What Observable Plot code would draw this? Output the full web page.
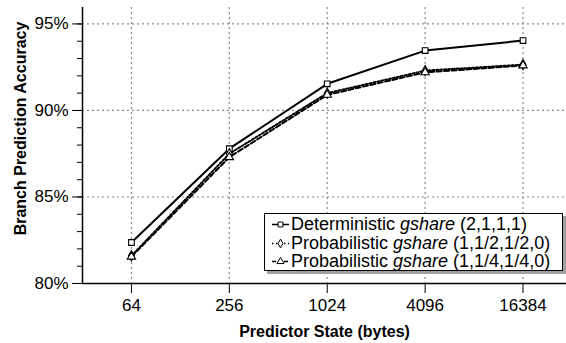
<!DOCTYPE html>
<html>
<head>
<meta charset="utf-8">
<script src="https://cdn.jsdelivr.net/npm/d3@7"></script>
<script src="https://cdn.jsdelivr.net/npm/@observablehq/plot@0.6"></script>
<style>
  body { margin: 0; background: white; }
  #wrap { position: relative; width: 566px; height: 343px; font-family: "Liberation Sans", Arial, Helvetica, sans-serif; }
  #legend { position: absolute; left: 264px; top: 213px; width: 299px; height: 58px; border: 1.5px solid black; background: white; box-shadow: 3px 3px 0 #a0a0a0; font-size: 18px; line-height: 18px; box-sizing: border-box; padding-top: 1px; }
  #legend .row { display: flex; align-items: center; height: 18.5px; white-space: nowrap; }
  #legend svg { display: block; margin-left: 6px; margin-right: 1px; }
</style>
</head>
<body>
<div id="wrap"></div>
<script>
const sizes = [64, 256, 1024, 4096, 16384];
const deterministic = [82.37, 87.79, 91.54, 93.46, 94.04];
const prob12 = [81.6, 87.5, 91.0, 92.3, 92.65];
const prob14 = [81.55, 87.3, 90.9, 92.2, 92.6];
const seriesNames = ["Deterministic", "Probabilistic", "Probabilistic"];
const seriesParams = ["(2,1,1,1)", "(1,1/2,1/2,0)", "(1,1/4,1/4,0)"];
const seriesSymbols = ["square", "diamond", "triangle"];
const seriesDash = [null, "2,2", "5,2.5"];
const yMajor = [80, 85, 90, 95];
const yMinor = d3.range(80, 96, 1);
const yGrid = [85, 90, 95];

const allSeries = [deterministic, prob12, prob14];
const rows = (k) => sizes.map((s, i) => ({size: s, value: allSeries[k][i], series: k}));

const lineMarks = allSeries.map((_, k) =>
  Plot.line(rows(k), {x: "size", y: "value", stroke: "black", strokeWidth: 2, strokeDasharray: seriesDash[k] || undefined})
);
const dotMarks = allSeries.map((_, k) =>
  Plot.dot(rows(k), {x: "size", y: "value", symbol: () => seriesSymbols[k], r: k === 0 ? 3.2 : 3.1, fill: "white", stroke: "black", strokeWidth: 1.1})
);

const chart = Plot.plot({
  width: 566, height: 343,
  marginLeft: 82, marginRight: 0, marginTop: 7, marginBottom: 60,
  x: {type: "log", base: 2, domain: [32, 30330]},
  y: {domain: [80, 95.95]},
  style: {fontFamily: '"Liberation Sans", Arial, Helvetica, sans-serif', fontSize: "17px", background: "white", color: "black"},
  marks: [
    Plot.gridX(sizes, {stroke: "#888", strokeOpacity: 1, strokeWidth: 1.2, strokeDasharray: "2,3"}),
    Plot.gridY(yGrid, {stroke: "#888", strokeOpacity: 1, strokeWidth: 1.2, strokeDasharray: "2,3"}),
    Plot.axisY(yMinor, {tickSize: 5, tickFormat: () => "", label: null, strokeWidth: 1}),
    Plot.axisY(yMajor, {tickSize: 10, tickPadding: 4, tickFormat: d => d + "%", label: null, fontSize: 17, strokeWidth: 1}),
    Plot.axisX(sizes, {tickSize: 10, tickPadding: 5, tickFormat: d => String(d), label: null, fontSize: 17, strokeWidth: 1}),
    Plot.ruleX([32], {y1: 80, y2: 95.95, stroke: "black", strokeWidth: 1.5}),
    Plot.ruleY([80], {stroke: "black", strokeWidth: 1.5}),
    ...lineMarks,
    ...dotMarks,
    Plot.text(["Branch Prediction Accuracy"], {frameAnchor: "left", textAnchor: "middle", lineAnchor: "middle", rotate: -90, dx: -62, dy: -17, fontWeight: "bold", fontSize: 16, fill: "black"}),
    Plot.text(["Predictor State (bytes)"], {frameAnchor: "bottom", textAnchor: "middle", dy: 48, lineAnchor: "middle", fontWeight: "bold", fontSize: 16, fill: "black"})
  ]
});

const wrap = document.getElementById("wrap");
wrap.appendChild(chart);

const legend = document.createElement("div");
legend.id = "legend";
const symPath = (k) => d3.symbol(k === 0 ? d3.symbolSquare : k === 1 ? d3.symbolDiamond : d3.symbolTriangle, k === 0 ? 24 : 22)();
seriesNames.forEach((name, k) => {
  const row = document.createElement("div");
  row.className = "row";
  const dash = seriesDash[k] ? `stroke-dasharray="${k === 1 ? "1.5,2.5" : "4,2"}"` : "";
  row.innerHTML = `<svg width="19" height="18"><line x1="1" x2="18" y1="9.5" y2="9.5" stroke="black" stroke-width="1.5" ${dash}></line><path d="${symPath(k)}" transform="translate(9.5,9.5)" fill="white" stroke="black" stroke-width="1"></path></svg><span>${name} <i>gshare</i> ${seriesParams[k]}</span>`;
  legend.appendChild(row);
});
wrap.appendChild(legend);
</script>
</body>
</html>
